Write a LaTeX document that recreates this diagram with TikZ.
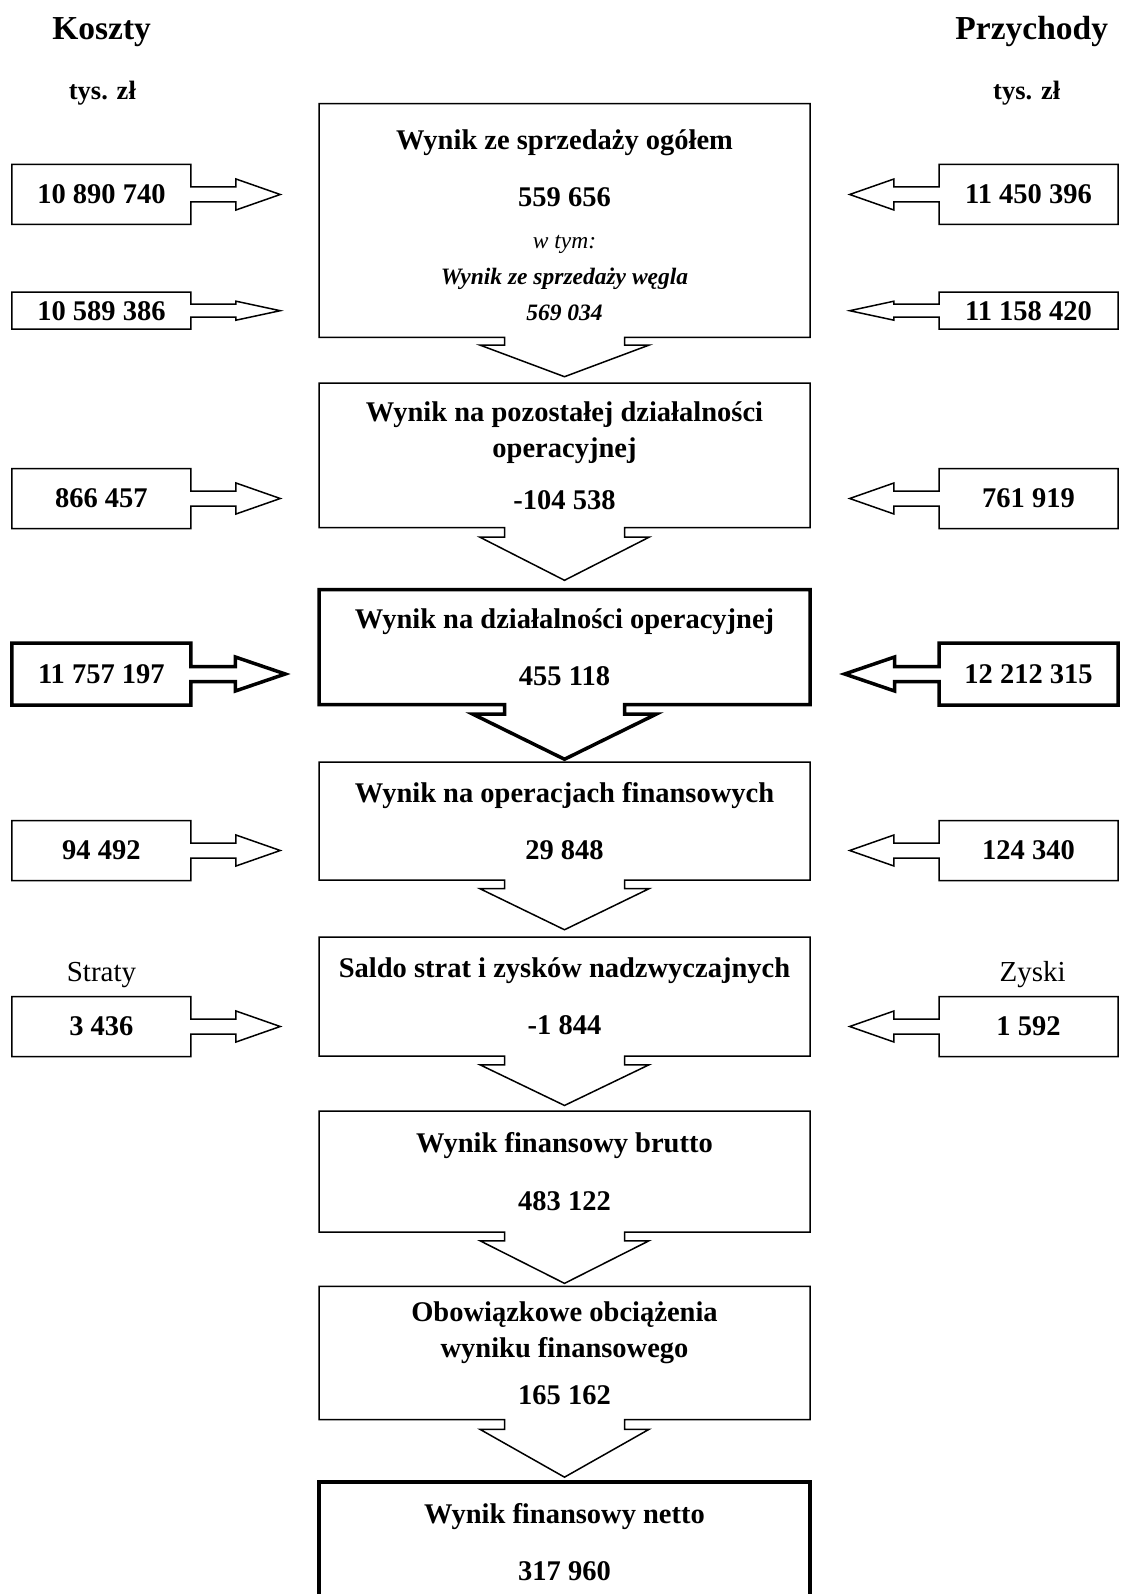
\documentclass[tikz,border=0pt]{standalone}
\usepackage{fontspec}
\setmainfont{Liberation Serif}
\usetikzlibrary{shapes.arrows}

\newcommand{\kursywa}{\itshape\fontsize{23.5}{36}\selectfont}

\begin{document}
\begin{tikzpicture}[x=1pt, y=-1pt,
    every node/.style={font=\bfseries\fontsize{28.5}{36}\selectfont},
    bok/.style={draw, line width=1.5pt, arrow box, inner sep=0pt,
      minimum width=179pt, minimum height=60pt,
      arrow box shaft width=15pt, arrow box head extend=8pt,
      arrow box tip angle=38.6},
    koszt/.style={bok, arrow box arrows={east:88.6pt}},
    przychod/.style={bok, arrow box arrows={west:88.6pt}},
    waski/.style={minimum height=37pt, arrow box shaft width=13pt,
      arrow box head extend=3pt, arrow box tip angle=24.2},
    gruby/.style={line width=3.5pt, minimum height=62pt,
      arrow box head extend=9.5pt, arrow box tip angle=37.6,
      arrow box arrows={#1:92.6pt}},
    wynik/.style 2 args={draw, line width=1.5pt, arrow box, inner sep=0pt,
      minimum width=491pt, align=center,
      arrow box shaft width=120pt, arrow box head extend=24.5pt,
      arrow box arrows={south:#1}, arrow box tip angle=#2},
    naglowek/.style={anchor=base, font=\bfseries\fontsize{33.5}{40}\selectfont},
    jednostka/.style={anchor=base, font=\bfseries\fontsize{26.5}{32}\selectfont},
    opis/.style={anchor=base, font=\fontsize{29}{35}\selectfont}]
    \clip (0, 0) rectangle (1120, 1594);

    \node [naglowek] (koszty) at (101.6, 39.3) {Koszty};
    \node [naglowek] (przychody) at (1031.7, 39.3) {Przychody};
    \node [jednostka] (jk) at (102.4, 99.3) {tys. zł};
    \node [jednostka] (jp) at (1026.7, 99.3) {tys. zł};

    \node [wynik={38.6pt}{139}, minimum height=233.7pt] (w1) at (564.5, 220.5)
      {\rule{0pt}{30pt}Wynik ze sprzedaży ogółem\\[21pt]
       559 656\\[6pt]
       {\kursywa\mdseries w tym:}\\
       {\kursywa Wynik ze sprzedaży węgla}\\
       {\kursywa 569 034}};
    \node [wynik={52pt}{126}, minimum height=144.5pt] (w2) at (564.5, 455.3)
      {Wynik na pozostałej działalności\\
       operacyjnej\\[16pt]
       -104 538};
    \node [wynik={53pt}{127.6}, line width=3.5pt, arrow box head extend=31.5pt,
      minimum height=115pt] (w3) at (564.5, 647)
      {Wynik na działalności operacyjnej\\[21pt]
       455 118};
    \node [wynik={49pt}{128.2}, minimum height=118pt] (w4) at (564.5, 821)
      {Wynik na operacjach finansowych\\[21pt]
       29 848};
    \node [wynik={48.7pt}{128.6}, minimum height=119pt] (w5) at (564.5, 996.5)
      {Saldo strat i zysków nadzwyczajnych\\[21pt]
       -1 844};
    \node [wynik={50.6pt}{126.5}, minimum height=121pt] (w6) at (564.5, 1171.5)
      {Wynik finansowy brutto\\[22pt]
       483 122};
    \node [wynik={56.7pt}{121}, minimum height=133.4pt] (w7) at (564.5, 1353)
      {Obowiązkowe obciążenia\\
       wyniku finansowego\\[11pt]
       165 162};
    \node [draw, line width=3.5pt, inner sep=0pt, minimum width=491pt,
      minimum height=120pt, align=center] (w8) at (564.5, 1542)
      {Wynik finansowy netto\\[21pt]
       317 960};

    \node [koszt] (k1) at (101.4, 194.5) {10 890 740};
    \node [przychod] (p1) at (1028.5, 194.5) {11 450 396};
    \node [koszt, waski] (k2) at (101.4, 310.7) {10 589 386};
    \node [przychod, waski] (p2) at (1028.5, 310.7) {11 158 420};
    \node [koszt] (k3) at (101.4, 498.5) {866 457};
    \node [przychod] (p3) at (1028.5, 498.5) {761 919};
    \node [koszt, gruby=east] (k4) at (101.4, 674) {11 757 197};
    \node [przychod, gruby=west] (p4) at (1028.5, 674) {12 212 315};
    \node [koszt] (k5) at (101.4, 850.5) {94 492};
    \node [przychod] (p5) at (1028.5, 850.5) {124 340};
    \node [opis] (straty) at (101.5, 981.7) {Straty};
    \node [opis] (zyski) at (1032.6, 981.7) {Zyski};
    \node [koszt] (k6) at (101.4, 1026.5) {3 436};
    \node [przychod] (p6) at (1028.5, 1026.5) {1 592};
  \end{tikzpicture}
\end{document}
